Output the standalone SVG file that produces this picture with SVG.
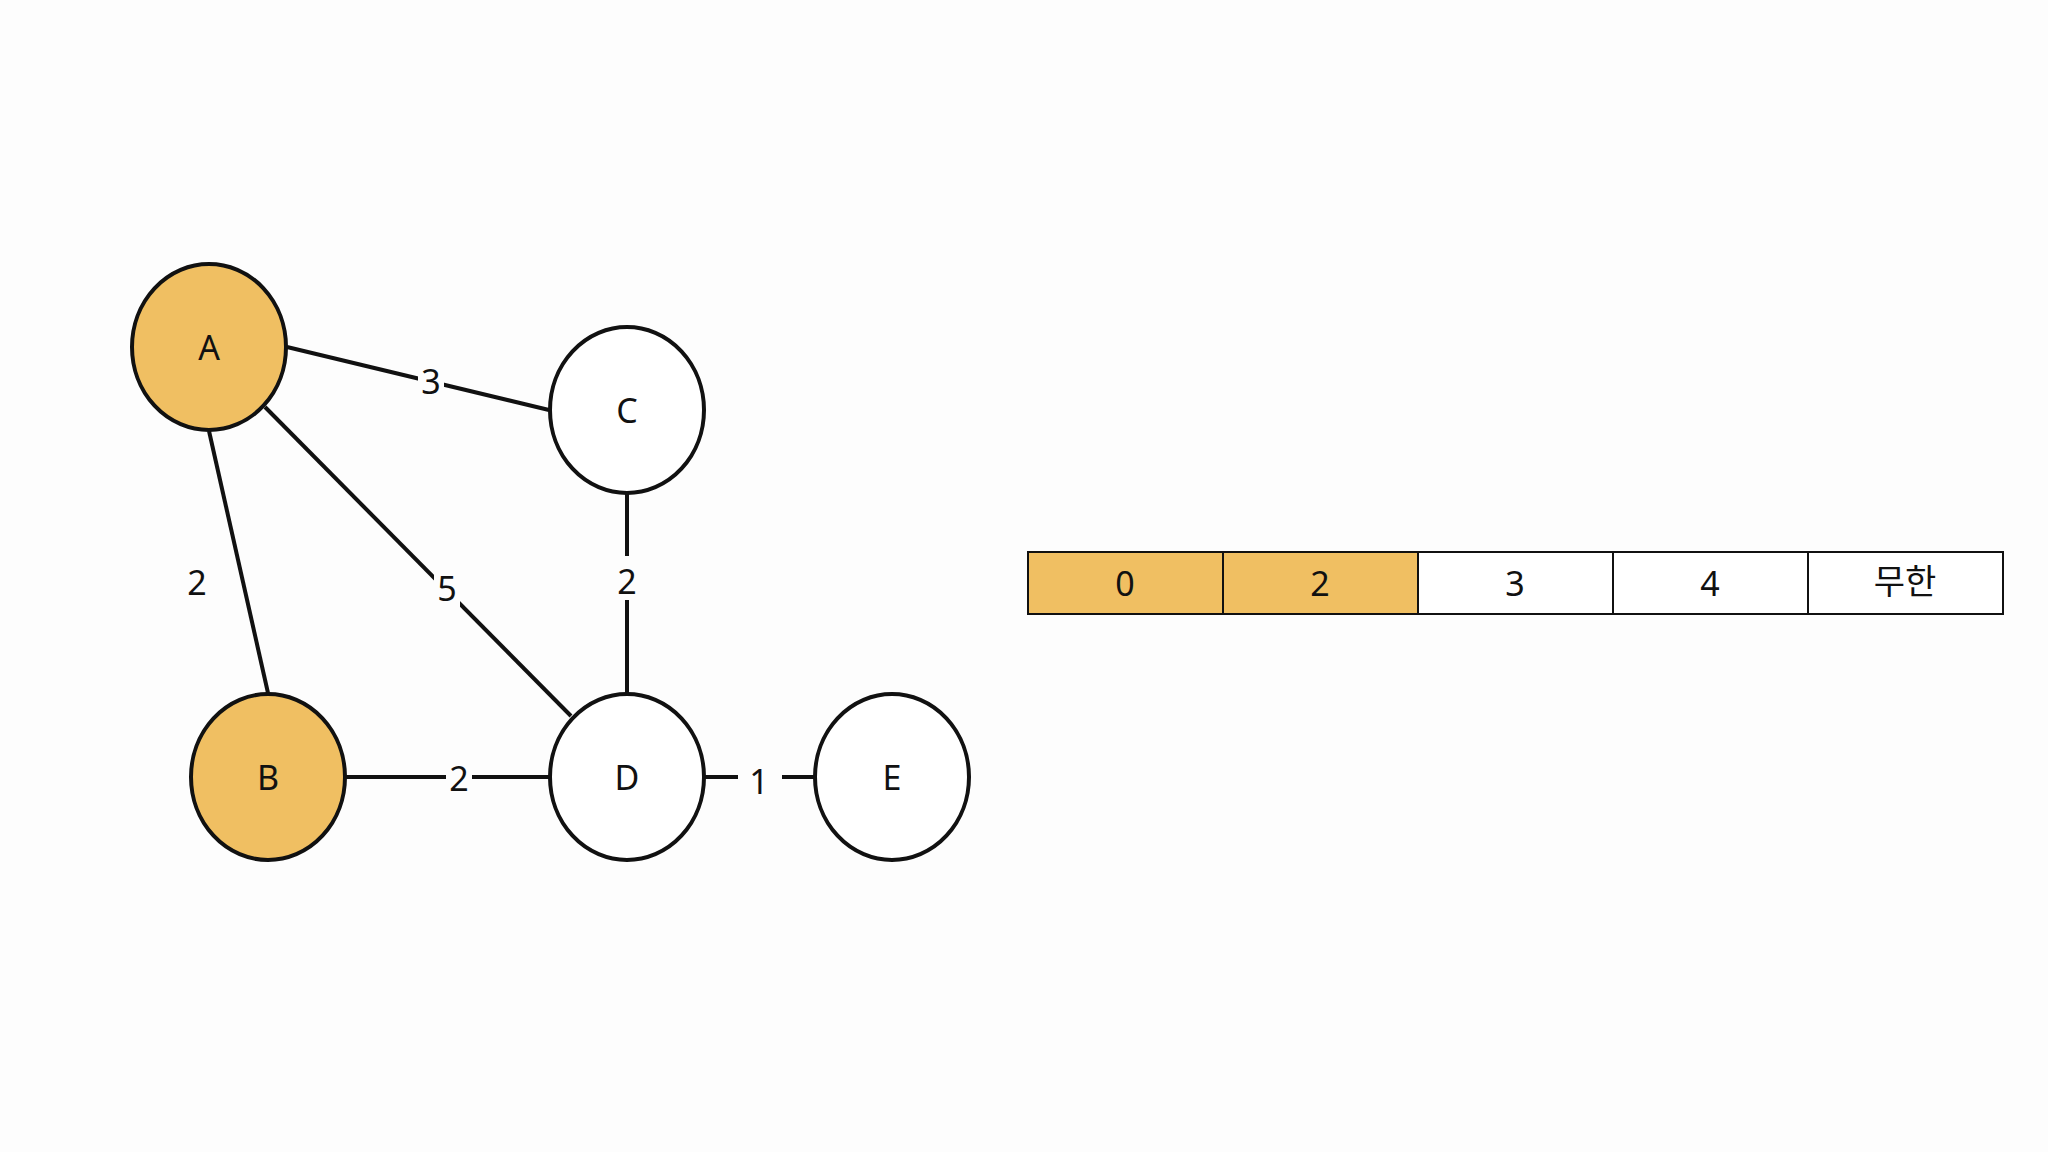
<svg xmlns="http://www.w3.org/2000/svg" width="2048" height="1152" viewBox="0 0 2048 1152">
<style>
.n{stroke:#111;stroke-width:4}
.o{fill:#F0BF62}
.w{fill:#fff}
.t{font-family:"Noto Sans","Noto Sans CJK KR",sans-serif;font-size:34px;fill:#111;text-anchor:middle;dominant-baseline:central}
.e{stroke:#111;stroke-width:4}
.lb{fill:#fdfdfd}
.c{stroke:#111;stroke-width:2}
</style>
<rect width="2048" height="1152" fill="#fdfdfd"/>
<g id="connectors">
<line class="e" x1="287" y1="347" x2="549" y2="410"/>
<line class="e" x1="209" y1="431" x2="268" y2="693"/>
<line class="e" x1="265" y1="407" x2="571" y2="716"/>
<line class="e" x1="627" y1="494" x2="627" y2="693"/>
<line class="e" x1="346" y1="777" x2="549" y2="777"/>
<line class="e" x1="705" y1="777" x2="814" y2="777"/>
<rect class="lb" x="418" y="362" width="26" height="38"/>
<rect class="lb" x="434" y="568" width="26" height="40"/>
<rect class="lb" x="614" y="556" width="26" height="44"/>
<rect class="lb" x="446" y="758" width="26" height="40"/>
<rect class="lb" x="738" y="760" width="44" height="40"/>
<text class="t" x="431" y="381">3</text>
<text class="t" x="197" y="582">2</text>
<text class="t" x="447" y="588">5</text>
<text class="t" x="627" y="581">2</text>
<text class="t" x="459" y="778">2</text>
<text class="t" x="759" y="781">1</text>
</g>
<g id="A"><ellipse class="n o" cx="209" cy="347" rx="77" ry="83"/><text class="t" x="209" y="347">A</text></g>
<g id="C"><ellipse class="n w" cx="627" cy="410" rx="77" ry="83"/><text class="t" x="627" y="410">C</text></g>
<g id="B"><ellipse class="n o" cx="268" cy="777" rx="77" ry="83"/><text class="t" x="268" y="777">B</text></g>
<g id="D"><ellipse class="n w" cx="627" cy="777" rx="77" ry="83"/><text class="t" x="627" y="777">D</text></g>
<g id="E"><ellipse class="n w" cx="892" cy="777" rx="77" ry="83"/><text class="t" x="892" y="777">E</text></g>
<g id="table">
<rect class="c o" x="1028" y="552" width="195" height="62"/>
<rect class="c o" x="1223" y="552" width="195" height="62"/>
<rect class="c w" x="1418" y="552" width="195" height="62"/>
<rect class="c w" x="1613" y="552" width="195" height="62"/>
<rect class="c w" x="1808" y="552" width="195" height="62"/>
<text class="t" x="1125" y="583">0</text>
<text class="t" x="1320" y="583">2</text>
<text class="t" x="1515" y="583">3</text>
<text class="t" x="1710" y="583">4</text>
<text class="t" x="1905" y="581">무한</text>
</g>
</svg>
